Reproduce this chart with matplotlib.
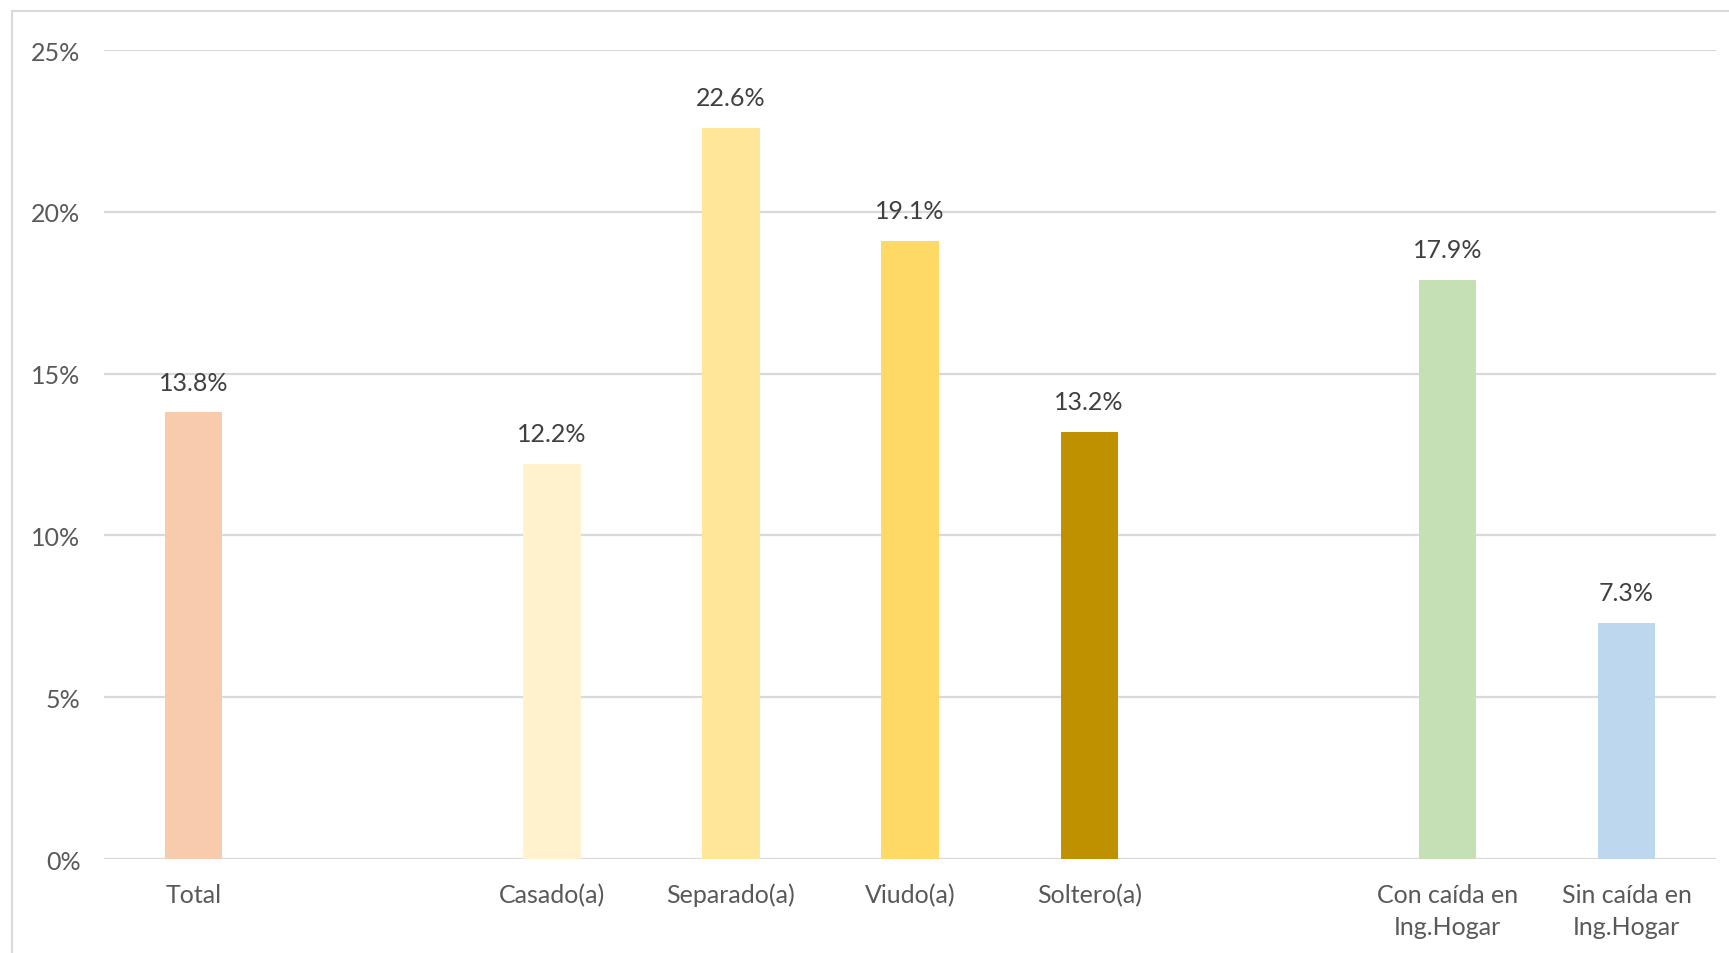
import matplotlib.pyplot as plt
from matplotlib.patches import Rectangle

# slot labels (blank slots are gaps between groups)
labels = ["Total", "", "Casado(a)", "Separado(a)", "Viudo(a)", "Soltero(a)", "",
          "Con caída en\nIng.Hogar", "Sin caída en\nIng.Hogar"]
values = [13.8, None, 12.2, 22.6, 19.1, 13.2, None, 17.9, 7.3]
colors = ["#F8CBAD", None, "#FFF2CC", "#FFE699", "#FFD966", "#BF9000", None,
          "#C5E0B4", "#BDD7EE"]
yticks = [0, 5, 10, 15, 20, 25]

plt.rcParams["font.family"] = ["Lato", "DejaVu Sans"]

fig = plt.figure(figsize=(17.29, 9.54), dpi=100)
ax = fig.add_axes([0.0602, 0.0985, 0.9323, 0.848])

# outer chart frame (cropped at right and bottom)
fig.patches.append(Rectangle((12 / 1729, -0.05), 1.2, (954 - 12) / 954 + 0.05,
                             transform=fig.transFigure, fill=False,
                             edgecolor="#D9D9D9", linewidth=1.5))

x = list(range(len(labels)))
for xi, v, c in zip(x, values, colors):
    if v is None:
        continue
    ax.bar(xi, v, width=0.32, color=c, zorder=3)
    ax.annotate(f"{v:.1f}%", (xi, v), xytext=(0, 13.5), textcoords="offset points",
                ha="center", va="bottom", fontsize=18, color="#404040")

ax.set_xlim(-0.5, len(labels) - 0.5)
ax.set_ylim(0, 25)
ax.set_yticks(yticks)
ax.set_yticklabels([f"{t}%" for t in yticks])
ax.set_xticks(x)
ax.set_xticklabels(labels, linespacing=1.5)

ax.grid(axis="y", color="#D9D9D9", linewidth=1.6, zorder=0)
for s in ax.spines.values():
    s.set_visible(False)
ax.tick_params(axis="both", length=0, labelsize=18, colors="#595959")
ax.tick_params(axis="y", pad=17)
ax.tick_params(axis="x", pad=17)

fig.savefig("out.png", dpi=100)
